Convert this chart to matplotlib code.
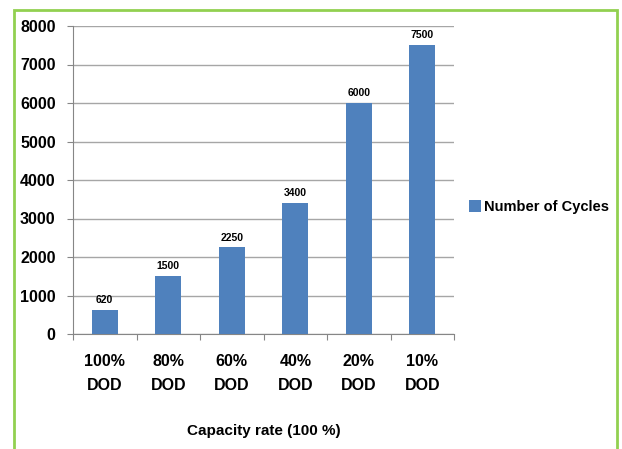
import matplotlib
matplotlib.use("Agg")
import matplotlib.pyplot as plt
import matplotlib.transforms as mtransforms
from matplotlib.patches import Rectangle

categories = ["100%\nDOD", "80%\nDOD", "60%\nDOD", "40%\nDOD", "20%\nDOD", "10%\nDOD"]
cycles = [620, 1500, 2250, 3400, 6000, 7500]
yticks = [0, 1000, 2000, 3000, 4000, 5000, 6000, 7000, 8000]

plt.rcParams['font.family'] = ['Liberation Sans', 'DejaVu Sans']

W, H = 622, 449
fig = plt.figure(figsize=(W / 100, H / 100), dpi=100)
ax = fig.add_axes([73 / W, 1 - 334 / H, (454 - 73) / W, (334 - 26) / H])

bar_color = "#4F81BD"
x = list(range(len(categories)))
bars = ax.bar(x, cycles, width=0.41, color=bar_color, zorder=3)
for xi, v in zip(x, cycles):
    ax.annotate(str(v), (xi, v), xytext=(0, 3.5), textcoords="offset points",
                ha="center", va="bottom", fontsize=7.5, fontweight="bold")

ax.set_xlim(-0.5, len(categories) - 0.5)
ax.set_ylim(0, 8000)
ax.set_yticks(yticks)
ax.set_yticklabels([str(t) for t in yticks], fontsize=11.5, fontweight="bold")
ax.set_xticks([i - 0.5 for i in range(len(categories) + 1)])
ax.set_xticklabels([""] * (len(categories) + 1))
ax.tick_params(axis="x", length=4.5, color="#868686", direction="out")
ax.tick_params(axis="y", length=4.5, color="#868686", direction="out", pad=8)

blend = mtransforms.blended_transform_factory(ax.transData, fig.transFigure)
for xi, lab in zip(x, categories):
    for k, line in enumerate(lab.split("\n")):
        ypix = 361 + 24 * k
        ax.text(xi, 1 - ypix / H, line, transform=blend,
                ha="center", va="center", fontsize=11.5, fontweight="bold")

fig.text(((73 + 454) / 2) / W, 1 - 431 / H, "Capacity rate (100 %)", ha="center", va="center",
         fontsize=11, fontweight="bold")

ax.yaxis.grid(True, color="#A6A6A6", linewidth=1, zorder=0)
for s in ["top", "right"]:
    ax.spines[s].set_visible(False)
for s in ["left", "bottom"]:
    ax.spines[s].set_color("#868686")

fig.patches.append(Rectangle((14 / W, -0.05), (617 - 14) / W, 1 - 10 / H + 0.05,
                             transform=fig.transFigure, fill=False,
                             edgecolor="#92D050", linewidth=2))

fig.legend([bars], ["Number of Cycles"], loc="center left",
           bbox_to_anchor=(469 / W, 1 - 207 / H), frameon=False,
           prop={"size": 10.5, "weight": "bold"}, handlelength=0.8, handleheight=0.8,
           handletextpad=0.2, borderpad=0, borderaxespad=0)

fig.savefig("out.png", dpi=100)
